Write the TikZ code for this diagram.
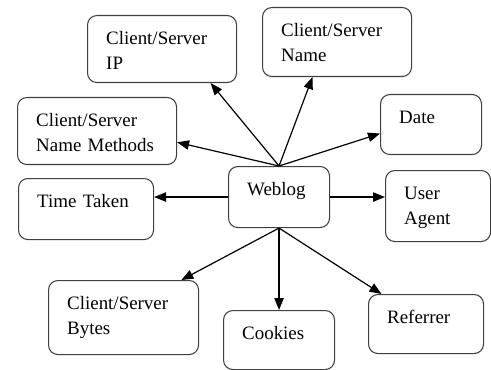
\documentclass[tikz,border=0pt]{standalone}
\usepackage{fontspec}
\setmainfont{Liberation Serif}
\usetikzlibrary{arrows.meta}

\begin{document}
\begin{tikzpicture}[
	x=0.75pt, y=-0.75pt,
	% --- Styles ---
	fieldbox/.style={
		draw=black!75, line width=0.8pt, rounded corners=7pt, anchor=north west,
		inner xsep=14pt, inner ysep=0pt, align=left, text height=22pt,
		font=\fontsize{14.2}{18.8}\selectfont
	},
	link/.style={
		draw, line width=0.9pt, -{Triangle[length=9pt, width=7pt]}
	}
	]
	
	\useasboundingbox (0,0) rectangle (491,370);
	
	% --- 1. Centre ---
	\node [fieldbox, text width=47.75pt, text depth=23.75pt] (weblog) at (228,166) {Weblog};
	
	% --- 2. Upper fields ---
	\node [fieldbox, text width=83.75pt, text depth=28.25pt] (ip) at (87,15) {Client/Server\\IP};
	\node [fieldbox, text width=83.75pt, text depth=29.75pt] (name) at (262,7) {Client/Server\\Name};
	\node [fieldbox, text width=91.25pt, text depth=28.25pt] (methods) at (17,97) {Client/Server\\Name Methods};
	\node [fieldbox, text width=47.75pt, text depth=23pt] (date) at (380,94) {Date};
	
	% --- 3. Side fields ---
	\node [fieldbox, text width=73.25pt, text depth=23.75pt] (taken) at (18,178) {Time Taken};
	\node [fieldbox, text width=50.75pt, text depth=31.25pt] (agent) at (385,170) {User\\Agent};
	
	% --- 4. Lower fields ---
	\node [fieldbox, text width=84.5pt, text depth=33.5pt] (bytes) at (48,280) {Client/Server\\Bytes};
	\node [fieldbox, text width=55.25pt, text depth=22.25pt] (cookies) at (223,310) {Cookies};
	\node [fieldbox, text width=58.25pt, text depth=22.25pt] (referrer) at (368,294) {Referrer};
	
	% --- Connections from the centre ---
	\draw [link] (weblog.north) -- (ip.-35);
	\draw [link] (weblog.north) -- (name.235);
	\draw [link] (weblog.north) -- (methods.-8);
	\draw [link] (weblog.north) -- (date.190);
	
	\draw [link] (weblog.west) -- (weblog.west -| taken.east);
	\draw [link] (weblog.east) -- (weblog.east -| agent.west);
	
	\draw [link] (weblog.south) -- (bytes.33);
	\draw [link] (weblog.south) -- (cookies.north);
	\draw [link] (weblog.south) -- (referrer.146);
	
\end{tikzpicture}
\end{document}
